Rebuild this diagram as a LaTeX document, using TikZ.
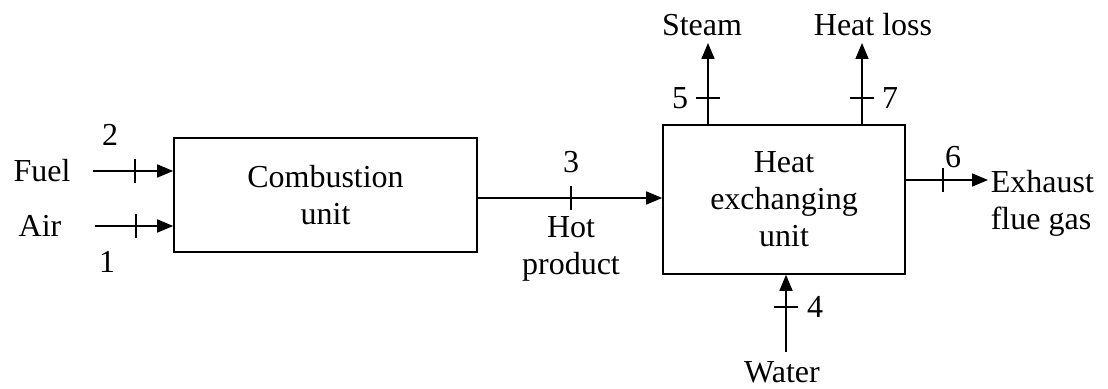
\documentclass[tikz,border=0pt]{standalone}
\usepackage{fontspec}
\setmainfont{Liberation Serif}
\usetikzlibrary{arrows.meta}

\begin{document}
\begin{tikzpicture}[x=0.5pt, y=-0.5pt, thick, font=\fontsize{16}{18.5}\selectfont,
    unit/.style = {draw, inner sep=0pt, align=center},
    lbl/.style = {inner sep=1pt, align=center},
    flow/.style = {-{Triangle[length=8pt,width=6.5pt]}}]
    \useasboundingbox (0,0) rectangle (1108,389);
    % units
    \node[unit, minimum width=151.5pt, minimum height=57pt] (cu) at (325.5,195) {Combustion\\unit};
    \node[unit, minimum width=121pt, minimum height=74.5pt] (hx) at (784,199.5) {Heat\\exchanging\\unit};
    % stream labels
    \node[lbl] (fuel) at (42,171) {Fuel};
    \node[lbl] (air) at (40,226) {Air};
    \node[lbl] (hot) at (571,249) {Hot\\product};
    \node[lbl] (steam) at (702,25) {Steam};
    \node[lbl] (loss) at (873,25) {Heat loss};
    \node[lbl, align=left, anchor=west] (exh) at (988,203) {Exhaust\\flue gas};
    \node[lbl] (water) at (782,372) {Water};
    % free ends
    \coordinate (f0) at (93,171);
    \coordinate (a0) at (95,226);
    \coordinate (s1) at (708,43);
    \coordinate (l1) at (862,43);
    \coordinate (e1) at (988,180);
    \coordinate (w0) at (786,352);
    % streams
    \draw[flow] (f0) -- (cu.west |- f0);
    \draw[flow] (a0) -- (cu.west |- a0);
    \draw[flow] (cu.east |- 0,198) -- (hx.west |- 0,198);
    \draw[flow] (hx.north -| s1) -- (s1);
    \draw[flow] (hx.north -| l1) -- (l1);
    \draw[flow] (hx.east |- e1) -- (e1);
    \draw[flow] (w0) -- (hx.south -| w0);
    % ticks
    \draw (135,159) -- (135,183);
    \draw (136,214) -- (136,238);
    \draw (571,186) -- (571,210);
    \draw (696,98) -- (720,98);
    \draw (850,98) -- (874,98);
    \draw (943,168) -- (943,192);
    \draw (774,307) -- (798,307);
    % stream numbers
    \node[lbl] (n2) at (110,135) {2};
    \node[lbl] (n1) at (107,262) {1};
    \node[lbl] (n3) at (571,162) {3};
    \node[lbl] (n5) at (680,98) {5};
    \node[lbl] (n7) at (890,98) {7};
    \node[lbl] (n6) at (953,157) {6};
    \node[lbl] (n4) at (815,307) {4};
\end{tikzpicture}
\end{document}
